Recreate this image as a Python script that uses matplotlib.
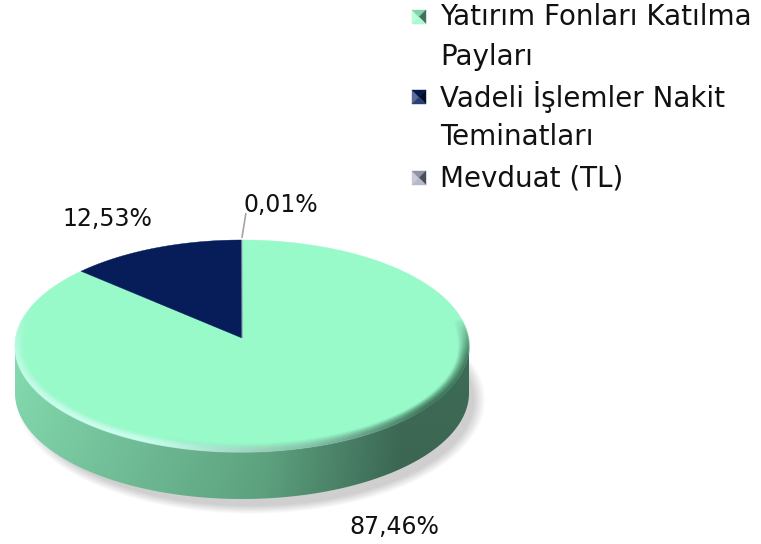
import numpy as np
import matplotlib
matplotlib.use("Agg")
import matplotlib.pyplot as plt
from matplotlib.patches import Polygon, Ellipse
from matplotlib.collections import LineCollection

categories = ["Yatırım Fonları Katılma\nPayları", "Vadeli İşlemler Nakit\nTeminatları", "Mevduat (TL)"]
values = [87.46, 12.53, 0.01]
labels = ["87,46%", "12,53%", "0,01%"]
colors = ["#98f9c9", "#061d5a", "#a9adc0"]

FONT = "DejaVu Sans"
W, H = 761, 544
fig = plt.figure(figsize=(W / 100, H / 100), dpi=100)
ax = fig.add_axes([0, 0, 1, 1])

cx, cy, a, b, depth = 242, 346, 227, 106, 47
apex_y = 338


def pt(theta, da=0.0, db=0.0):
    t = np.deg2rad(theta)
    return cx + (a - da) * np.sin(t), cy - (b - db) * np.cos(t)


# shadow
for i in range(12):
    s = i * 2.0
    e = Ellipse((cx + 9, cy + depth + 7), 2 * a - 8 + s, 2 * b + s * 0.7,
                facecolor=(0, 0, 0), alpha=0.016, edgecolor="none", zorder=1)
    ax.add_patch(e)

# side (front half)
th = np.linspace(90, 270, 300)
xt, yt = pt(th)
side_xy = np.concatenate([np.column_stack([xt, yt]),
                          np.column_stack([xt[::-1], yt[::-1] + depth])])
side_poly = Polygon(side_xy, closed=True, facecolor="none", edgecolor="none", zorder=2)
ax.add_patch(side_poly)
nx, ny = 300, 60
xs = np.linspace(0, 1, nx)
left_c = np.array([128, 212, 170]) / 255
mid_c = np.array([95, 165, 130]) / 255
right_c = np.array([60, 104, 84]) / 255
grad = np.zeros((ny, nx, 3))
for j, x in enumerate(xs):
    if x < 0.55:
        c = left_c + (mid_c - left_c) * (x / 0.55)
    elif x < 0.85:
        c = mid_c + (right_c - mid_c) * ((x - 0.55) / 0.30)
    else:
        c = right_c
    grad[:, j, :] = c
vy = np.linspace(1.08, 0.97, ny)[:, None, None]
grad = np.clip(grad * vy, 0, 1)
im = ax.imshow(grad, extent=(cx - a, cx + a, cy + b + depth, cy - b - 10),
               origin="upper", aspect="auto", zorder=2, interpolation="bilinear")
im.set_clip_path(side_poly)

# top face wedges (clockwise from 12 o'clock)
start = 0.0
total = sum(values)
mids = []
for v, col in zip(values, colors):
    span = 360.0 * v / total
    tt = np.linspace(start, start + span, max(3, int(span * 2)))
    px, py = pt(tt)
    xy = np.vstack([[cx, apex_y], np.column_stack([px, py])])
    ax.add_patch(Polygon(xy, closed=True, facecolor=col, edgecolor=col, lw=0.3, zorder=3))
    mids.append(start + span / 2)
    start += span

# bevel on the rim of the top face
tb = np.linspace(75, 300, 400)
for d in np.linspace(0, 11, 23):
    px, py = pt(tb, d, d * 0.75)
    pts = np.column_stack([px, py])
    segs = np.stack([pts[:-1], pts[1:]], axis=1)
    tm = (tb[:-1] + tb[1:]) / 2
    L = np.clip(np.cos(np.deg2rad(tm - 215)), 0, 1) ** 1.2
    D = np.clip(np.cos(np.deg2rad(tm - 118)), 0, 1) ** 1.5
    D *= np.clip((tm - 75) / 20, 0, 1)
    L *= np.clip((300 - tm) / 25, 0, 1)
    f = (1 - d / 11) ** 1.3
    cols = np.zeros((len(tm), 4))
    light = np.array([0.82, 1.0, 0.95])
    dark = np.array([0.22, 0.42, 0.33])
    w = L / (L + D + 1e-9)
    cols[:, :3] = light * w[:, None] + dark * (1 - w[:, None])
    cols[:, 3] = np.clip(np.maximum(L * 0.55, D * 0.55) * f, 0, 1)
    ax.add_collection(LineCollection(segs, colors=cols, linewidths=1.2, zorder=4))

# leader line for the tiny slice
lx, ly = pt(mids[2])
ax.plot([lx, lx + 4], [ly - 2, ly - 27], color="#a6a6a6", lw=1.2, zorder=5,
        solid_capstyle="butt")

# data labels
label_pos = [(394, 527), (107, 219), (281, 205)]
for lab, (x, y) in zip(labels, label_pos):
    ax.text(x, y, lab, fontsize=17, family=FONT, color="#111111",
            ha="center", va="center", zorder=6)

# legend
rows = [17, 97, 178]
mk = 14
for cat, col, y in zip(categories, colors, rows):
    x0, x1 = 412, 412 + mk
    y0, y1 = y - mk / 2, y + mk / 2
    xm, ym = (x0 + x1) / 2, (y0 + y1) / 2
    base = np.array(matplotlib.colors.to_rgb(col))
    shades = {
        "left": np.clip(base + (1 - base) * 0.35, 0, 1),
        "top": np.clip(base * 0.85, 0, 1),
        "right": np.clip(base * 0.45, 0, 1),
        "bottom": np.clip(base + (1 - base) * 0.15, 0, 1),
    }
    tris = {
        "left": [(x0, y0), (xm, ym), (x0, y1)],
        "top": [(x0, y0), (x1, y0), (xm, ym)],
        "right": [(x1, y0), (x1, y1), (xm, ym)],
        "bottom": [(x0, y1), (xm, ym), (x1, y1)],
    }
    for k in tris:
        ax.add_patch(Polygon(tris[k], closed=True, facecolor=shades[k],
                             edgecolor=shades[k], lw=0.3, zorder=6))
    for i, line in enumerate(cat.split("\n")):
        ax.text(440, y + i * 40, line, fontsize=20, family=FONT, color="#111111",
                ha="left", va="center", zorder=6)

ax.set_xlim(0, W)
ax.set_ylim(H, 0)
ax.axis("off")
fig.savefig("out.png", dpi=100, facecolor="white")
